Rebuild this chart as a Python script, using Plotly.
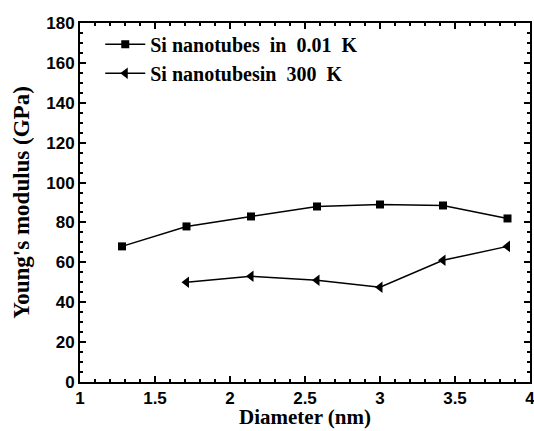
import plotly.graph_objects as go

diam_001 = [1.28, 1.71, 2.14, 2.58, 3.0, 3.42, 3.85]
ym_001 = [68, 78, 83, 88, 89, 88.5, 82]
diam_300 = [1.71, 2.14, 2.58, 3.0, 3.42, 3.85]
ym_300 = [50, 53, 51, 47.5, 61, 68]
names = ["Si nanotubes  in  0.01  K", "Si nanotubesin  300  K"]

fig = go.Figure()
fig.add_trace(go.Scatter(x=diam_001, y=ym_001, mode="lines+markers", name=names[0],
                         line=dict(color="black", width=1.5),
                         marker=dict(symbol="square", size=8, color="black")))
fig.add_trace(go.Scatter(x=diam_300, y=ym_300, mode="lines+markers", name=names[1],
                         line=dict(color="black", width=1.5),
                         marker=dict(symbol="triangle-left", size=10, color="black")))

axis_common = dict(showline=True, linecolor="black", linewidth=2, mirror="allticks",
                   ticks="inside", ticklen=6, tickwidth=1.5, tickcolor="black",
                   showgrid=False, zeroline=False, automargin=False,
                   ticklabeloverflow="allow",
                   tickfont=dict(family="Liberation Sans", size=17, color="black", weight="bold"))

fig.update_xaxes(range=[1, 4], dtick=0.5, **axis_common,
                 minor=dict(ticks="inside", ticklen=3, dtick=0.1, tickcolor="black"))
fig.update_yaxes(range=[0, 180], dtick=20, **axis_common,
                 minor=dict(ticks="inside", ticklen=3, dtick=5, tickcolor="black"),
                 title=dict(text="Young's modulus (GPa)", standoff=10,
                            font=dict(family="Liberation Serif", size=23, color="black", weight="bold")))

fig.add_annotation(text="Diameter (nm)", xref="paper", yref="paper", x=0.5, y=0,
                   xanchor="center", yanchor="middle", yshift=-35, showarrow=False,
                   font=dict(family="Liberation Serif", size=21, color="black", weight="bold"))

fig.update_layout(width=534, height=431, margin=dict(l=80, r=4, t=23, b=49),
                  plot_bgcolor="white", paper_bgcolor="white",
                  legend=dict(x=0.045, y=0.995, xanchor="left", yanchor="top",
                              bgcolor="rgba(0,0,0,0)",
                              font=dict(family="Liberation Serif", size=20, color="black", weight="bold"),
                              itemwidth=40),
                  showlegend=True)
fig.write_html("out.html", config={"displayModeBar": False},
               post_script="document.body.style.margin='0';document.body.style.overflow='hidden';")
